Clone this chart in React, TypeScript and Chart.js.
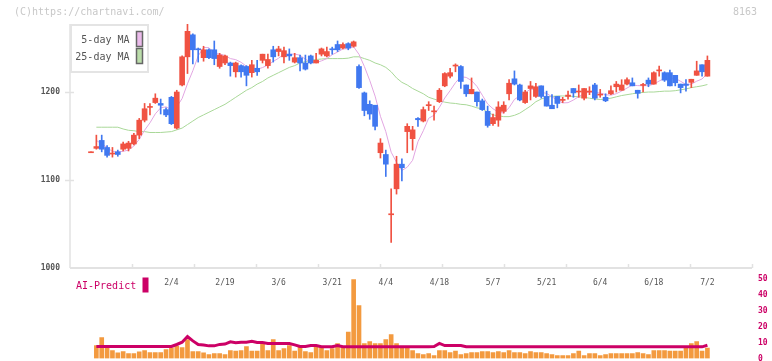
import React, { useEffect, useRef } from 'react';
import { Chart, registerables } from 'chart.js';

Chart.register(...registerables);

const FONT = "'DejaVu Sans Mono', monospace";

// x tick labels (trading-day index -> date label)
const tickIndex = [15, 25, 35, 45, 55, 65, 75, 85, 95, 105, 115];
const tickLabels = ['2/4', '2/19', '3/6', '3/21', '4/4', '4/18', '5/7', '5/21', '6/4', '6/18', '7/2'];
const priceTicks = [1000, 1100, 1200];
const priceMin = 1000;
const priceMax = 1277.3;
const volTickStep = 10;
const volMax = 50;

const opens = [
  1131, 1136, 1145, 1137, 1129.5, 1132, 1135, 1136, 1141, 1151,
  1168, 1182.5, 1188, 1187, 1180, 1194, 1159, 1208, 1240, 1265,
  1249, 1239, 1248, 1248, 1229, 1233, 1233, 1223, 1230, 1229,
  1222, 1227, 1236, 1230, 1248, 1246, 1240, 1243, 1234, 1239,
  1233, 1241, 1233, 1243, 1241, 1248.5, 1254, 1250, 1255, 1252,
  1229, 1199, 1186, 1185, 1131, 1129, 1060.5, 1090, 1118, 1155,
  1147, 1170, 1167, 1184.5, 1177.5, 1189, 1207, 1218, 1229.5, 1229,
  1208, 1198, 1200, 1190, 1178, 1164, 1168, 1178, 1198, 1215,
  1208, 1188, 1204, 1195, 1207, 1195, 1185, 1195, 1190.5, 1195,
  1204, 1200, 1193, 1200, 1208, 1196.5, 1194, 1198, 1206, 1202,
  1209, 1210.5, 1202, 1207.5, 1213.5, 1209, 1224, 1222, 1222, 1219,
  1209, 1209, 1211, 1219, 1231, 1218,
];
const highs = [
  1132, 1151, 1151, 1139, 1137, 1134, 1143, 1144, 1153, 1170,
  1187, 1187, 1198, 1192, 1182, 1195, 1202, 1241, 1277, 1266,
  1250, 1252, 1249, 1258, 1244, 1242, 1234, 1234, 1231, 1230,
  1236, 1236, 1243, 1243, 1252, 1252, 1251, 1249, 1244, 1242,
  1242, 1242, 1244, 1250, 1251, 1251, 1258, 1256, 1256, 1258,
  1231, 1200, 1190, 1185, 1147, 1134, 1090, 1127, 1124, 1164,
  1161, 1171, 1183, 1189, 1184, 1204, 1222, 1227, 1232, 1230,
  1208, 1216, 1200, 1192, 1184, 1175, 1189, 1189, 1214, 1224,
  1209, 1202, 1212, 1210, 1207, 1201, 1197, 1195, 1194, 1201,
  1204, 1208, 1204, 1206, 1210, 1203, 1198, 1207, 1212, 1214,
  1216, 1216, 1202, 1210, 1216, 1223, 1229.5, 1223, 1225, 1219,
  1209, 1214, 1214.5, 1235, 1231, 1241,
];
const lows = [
  1131, 1135, 1132, 1126, 1126, 1127, 1133, 1133, 1140, 1147,
  1166, 1174, 1187, 1175, 1172, 1163, 1158, 1207, 1221, 1232,
  1234, 1235, 1238, 1231, 1227, 1231, 1218, 1217, 1217, 1207,
  1217, 1219, 1233, 1227, 1234, 1241, 1233, 1236, 1233, 1224,
  1225, 1232, 1233, 1241, 1240, 1243, 1246, 1249, 1248, 1251,
  1204, 1173, 1169, 1157, 1125, 1104, 1029, 1084, 1099, 1131,
  1134, 1161, 1166, 1179, 1168, 1188, 1206, 1216, 1223, 1204,
  1195, 1198, 1184, 1179, 1160, 1162, 1161, 1176, 1191, 1208,
  1190, 1187, 1191, 1194, 1193, 1184, 1181, 1182, 1188, 1192,
  1194, 1194, 1191, 1197, 1191, 1194, 1189, 1197, 1200, 1202,
  1208, 1207, 1193, 1200, 1206, 1209, 1218, 1212, 1207, 1207,
  1199, 1201, 1205, 1219, 1218, 1218,
];
const closes = [
  1131.5, 1138, 1135, 1128, 1130, 1129, 1141, 1142, 1151, 1168,
  1181, 1183, 1193, 1185, 1174, 1164, 1200, 1240, 1269, 1248,
  1248, 1248, 1239, 1238, 1242, 1241, 1230, 1233, 1223, 1219,
  1231, 1223, 1243, 1237, 1240, 1249, 1247, 1241, 1239, 1233,
  1226, 1233, 1236, 1249, 1246, 1248, 1248, 1254, 1250, 1257,
  1205, 1179, 1175, 1161, 1142, 1118, 1061.5, 1118, 1114, 1161,
  1157, 1168.5, 1180, 1185, 1178, 1202, 1221, 1222, 1230, 1212,
  1198, 1203, 1189, 1180, 1162, 1171, 1183, 1185, 1210, 1209,
  1191, 1200, 1207, 1206, 1195, 1184, 1181, 1187, 1191, 1196.5,
  1199, 1200.5, 1204, 1200.5, 1193, 1197, 1190, 1201.5, 1209, 1208,
  1214, 1207, 1198.5, 1208, 1209, 1222, 1224.5, 1213.5, 1207, 1210.5,
  1205, 1207.5, 1214.5, 1224, 1223, 1236,
];
const ma5 = [
  null, 1145, 1141, 1137, 1132.4, 1132, 1132.6, 1134, 1138.6, 1146.2,
  1156.6, 1165, 1175.2, 1182, 1183.2, 1179.8, 1183.2, 1192.6, 1209.4, 1224.2,
  1241, 1250.6, 1250.4, 1244.2, 1243, 1241.6, 1238, 1236.8, 1233.8, 1229.2,
  1227.2, 1225.8, 1227.8, 1230.6, 1234.8, 1238.4, 1243.2, 1242.8, 1243.2, 1241.8,
  1237.2, 1234.4, 1233.4, 1235.4, 1238, 1242.4, 1245.4, 1249, 1249.2, 1251.4,
  1242.8, 1229, 1213.2, 1195.4, 1172.4, 1155, 1131.6, 1120.2, 1110.8, 1114.6,
  1122.4, 1143.6, 1156, 1170.2, 1173.6, 1182.6, 1193.2, 1201.6, 1210.6, 1217.4,
  1216.6, 1213, 1206.4, 1196.4, 1186.4, 1181, 1177, 1176.2, 1182.2, 1191.6,
  1195.6, 1199, 1203.4, 1202.6, 1199.8, 1198.4, 1194.6, 1190.6, 1187.6, 1187.9,
  1190.9, 1194.8, 1198.2, 1200.1, 1199.4, 1199, 1196.9, 1196.4, 1198.1, 1201.1,
  1204.5, 1207.9, 1207.3, 1207.1, 1207.3, 1208.9, 1212.5, 1215.5, 1215.3, 1215.6,
  1212.2, 1208.7, 1208.9, 1212.3, 1214.8, 1221,
];
const ma25 = [
  null, 1160, 1160, 1160, 1160, 1160, 1158, 1156.5, 1156, 1155,
  1155, 1154, 1154, 1154, 1154.5, 1155, 1157, 1159, 1163, 1167,
  1171, 1174, 1177, 1180, 1183, 1186, 1190, 1194, 1198, 1202,
  1205, 1209, 1212, 1216, 1219, 1222, 1225, 1228, 1230, 1233,
  1234.5, 1236, 1237, 1237.5, 1238, 1238, 1238, 1238, 1238.5, 1240,
  1240, 1238, 1236, 1233, 1231, 1228, 1223, 1216, 1211, 1208,
  1204, 1201, 1198, 1194, 1192, 1190, 1188.5, 1187.5, 1187, 1186,
  1185.5, 1184, 1182, 1181, 1177, 1174, 1173, 1172, 1172, 1173.5,
  1176, 1180, 1184, 1189, 1192, 1194, 1195, 1195.5, 1195.5, 1195.5,
  1195, 1194.5, 1194, 1193, 1192, 1191.5, 1192, 1193, 1194.5, 1196,
  1197, 1198, 1199, 1199.5, 1200, 1200, 1200.5, 1201, 1201, 1201.5,
  1202.5, 1203.5, 1205, 1206, 1207, 1208.5,
];
const volume = [
  null, 8.1, 13.1, 6.5, 5, 3.5, 4.4, 3.1, 3.1, 4.2,
  5, 3.75, 3.75, 3.75, 5.6, 6.7, 7.7, 6.9, 11.9, 4.4,
  4.4, 3.5, 2.5, 3.1, 3.1, 2.5, 5, 4.6, 5, 7.5,
  4.6, 4.6, 9.2, 5, 11.9, 5, 6.25, 8.1, 4.6, 7.5,
  4.4, 3.75, 7.1, 7.1, 5, 6.25, 9.4, 7.1, 16.5, 49.4,
  33.1, 9.4, 10.6, 9.4, 9.4, 11.9, 15, 9.4, 7.5, 7.1,
  5, 3.1, 2.5, 3.1, 1.9, 5, 5, 3.75, 4.6, 2.5,
  3.1, 3.75, 3.75, 4.4, 4.4, 3.75, 4.4, 3.75, 5, 3.75,
  3.75, 3.1, 4.4, 3.75, 3.75, 3.1, 2.5, 1.9, 1.9, 1.9,
  3.1, 4.6, 1.9, 3.1, 3.1, 1.9, 2.5, 3.1, 3.1, 3.1,
  3.1, 3.1, 3.75, 3.1, 2.5, 5, 5, 5, 4.6, 4.6,
  4.6, 6.5, 9.4, 10.6, 4.6, 6.5,
];
const aiPredict = [
  null, 7.5, 7.5, 7.5, 7.5, 7.5, 7.5, 7.5, 7.5, 7.5,
  7.5, 7.5, 7.5, 7.5, 7.5, 7.5, 8.75, 10.2, 13.75, 11,
  8.75, 8.5, 7.9, 7.9, 8.8, 9, 10.4, 9.8, 10.2, 10.2,
  10.8, 10, 10, 9.4, 9.4, 9.4, 9.4, 9.4, 8.5, 7.5,
  7.5, 8.1, 8.1, 7.3, 7.3, 7.3, 8.1, 7.3, 7.3, 7.3,
  7.3, 7.3, 7.3, 7.3, 7.3, 7.3, 7.3, 7.3, 7.3, 7.3,
  7.3, 7.3, 7.3, 7.3, 7.5, 9.4, 8.1, 8.1, 8.1, 8.1,
  7.3, 7.3, 7.3, 7.3, 7.3, 7.3, 7.3, 7.3, 7.3, 7.3,
  7.3, 7.3, 7.3, 7.3, 7.3, 7.3, 7.3, 7.3, 7.3, 7.3,
  7.3, 7.3, 7.3, 7.3, 7.3, 7.3, 7.3, 7.3, 7.3, 7.3,
  7.3, 7.3, 7.3, 7.3, 7.3, 7.3, 7.3, 7.3, 7.3, 7.3,
  7.3, 7.3, 7.3, 7.3, 7.3, 8.3,
];

const X_MIN = -3.918;
const X_MAX = 123.32;
const GRID_DIVISIONS = 11;

const RED = '#F05242';
const BLUE = '#4078F0';
const PINK = '#E2A6E2';
const GREEN = '#A9D898';
const ORANGE = '#F39A3F';
const CRIMSON = '#CC0066';
const AXIS = '#E2E2E2';

function seg(ctx: CanvasRenderingContext2D, x1: number, y1: number, x2: number, y2: number) {
  ctx.beginPath();
  ctx.moveTo(x1, y1);
  ctx.lineTo(x2, y2);
  ctx.stroke();
}

const priceDecor = {
  id: 'priceDecor',
  beforeDatasetsDraw(chart: any) {
    const { ctx, chartArea } = chart;
    const { left, right, top, bottom } = chartArea;
    const ys = chart.scales.y;
    ctx.save();
    ctx.strokeStyle = AXIS;
    ctx.lineWidth = 1.5;
    seg(ctx, left, top, left, bottom);
    priceTicks.forEach((v) => {
      if (v === priceMin) return;
      const y = Math.round(ys.getPixelForValue(v)) + 0.5;
      seg(ctx, left - 5, y, left + 4, y);
    });
    for (let k = 1; k <= GRID_DIVISIONS; k++) {
      const x = Math.round(left + ((right - left) * k) / GRID_DIVISIONS) + 0.5;
      seg(ctx, x, bottom - 4, x, bottom);
    }
    ctx.lineWidth = 2;
    seg(ctx, left, bottom, right, bottom);
    ctx.restore();
  },
  afterDraw(chart: any) {
    const { ctx } = chart;
    ctx.save();
    ctx.font = `10px ${FONT}`;
    ctx.textBaseline = 'middle';
    ctx.fillStyle = '#C8C8C8';
    ctx.textAlign = 'left';
    ctx.fillText('(C)https://chartnavi.com/', 14, 12.5);
    ctx.textAlign = 'right';
    ctx.fillText('8163', 757, 12.5);

    // legend box
    ctx.fillStyle = '#FFFFFF';
    ctx.fillRect(70, 24, 78, 48);
    ctx.strokeStyle = '#E4E4E4';
    ctx.lineWidth = 2;
    ctx.strokeRect(71, 25, 77, 47);
    ctx.fillStyle = '#555555';
    ctx.textAlign = 'right';
    ctx.fillText('5-day MA', 129.5, 40);
    ctx.fillText('25-day MA', 129.5, 57);
    ctx.lineWidth = 1.5;
    ctx.strokeStyle = '#666666';
    ctx.fillStyle = '#EBBBEB';
    ctx.fillRect(136.5, 31.5, 6, 15);
    ctx.strokeRect(136.5, 31.5, 6, 15);
    ctx.fillStyle = '#BBDDAA';
    ctx.fillRect(136.5, 48.5, 6, 15);
    ctx.strokeRect(136.5, 48.5, 6, 15);
    ctx.restore();
  },
};

const volDecor = {
  id: 'volDecor',
  afterDraw(chart: any) {
    const { ctx } = chart;
    ctx.save();
    ctx.font = `10px ${FONT}`;
    ctx.textBaseline = 'middle';
    ctx.textAlign = 'left';
    ctx.fillStyle = CRIMSON;
    ctx.fillText('AI-Predict', 76, 286);
    ctx.fillRect(142.5, 277.5, 6, 15);
    ctx.restore();
  },
};

export default function App() {
  const priceRef = useRef<HTMLCanvasElement | null>(null);
  const volRef = useRef<HTMLCanvasElement | null>(null);

  useEffect(() => {
    const idx = opens.map((_, i) => i);
    const colors = opens.map((o, i) => (closes[i] >= o ? RED : BLUE));

    const priceChart = new Chart(priceRef.current as HTMLCanvasElement, {
      type: 'bar',
      data: {
        datasets: [
          {
            type: 'line',
            data: idx.map((i) => ({ x: i, y: ma25[i] })),
            borderColor: GREEN,
            borderWidth: 1,
            pointRadius: 0,
            order: 3,
          } as any,
          {
            type: 'line',
            data: idx.map((i) => ({ x: i, y: ma5[i] })),
            borderColor: PINK,
            borderWidth: 1,
            pointRadius: 0,
            order: 2,
          } as any,
          {
            type: 'bar',
            data: idx.map((i) => ({ x: i, y: [lows[i], highs[i]] })),
            backgroundColor: colors,
            barThickness: 1,
            grouped: false,
            order: 1,
          } as any,
          {
            type: 'bar',
            data: idx.map((i) => ({ x: i, y: [opens[i], closes[i]] })),
            backgroundColor: colors,
            barThickness: 5,
            minBarLength: 1,
            grouped: false,
            order: 0,
          } as any,
        ],
      },
      options: {
        animation: false,
        responsive: false,
        devicePixelRatio: 1,
        layout: { padding: { left: 0, right: 20, top: 24, bottom: 0 } },
        plugins: { legend: { display: false }, tooltip: { enabled: false } },
        scales: {
          x: {
            type: 'linear',
            min: X_MIN,
            max: X_MAX,
            offset: false,
            grid: { display: false, drawTicks: false },
            border: { display: false },
            afterBuildTicks: (s: any) => {
              s.ticks = tickIndex.map((v) => ({ value: v }));
            },
            afterFit: (s: any) => {
              s.height = 93;
            },
            ticks: {
              autoSkip: false,
              maxRotation: 0,
              padding: 10,
              color: '#555555',
              font: { family: FONT, size: 8 },
              callback: (v: any) => {
                const k = tickIndex.indexOf(Number(v));
                return k >= 0 ? tickLabels[k] : '';
              },
            },
          },
          y: {
            type: 'linear',
            min: priceMin,
            max: priceMax,
            grid: { display: false, drawTicks: false },
            border: { display: false },
            afterBuildTicks: (s: any) => {
              s.ticks = priceTicks.map((v) => ({ value: v }));
            },
            afterFit: (s: any) => {
              s.width = 70;
            },
            ticks: {
              padding: 10,
              color: '#555555',
              font: { family: FONT, size: 8, weight: 'bold' },
              callback: (v: any) => String(v),
            },
          },
        },
      } as any,
      plugins: [priceDecor],
    });

    const volChart = new Chart(volRef.current as HTMLCanvasElement, {
      type: 'bar',
      data: {
        datasets: [
          {
            type: 'line',
            data: idx.map((i) => ({ x: i, y: aiPredict[i] })),
            borderColor: CRIMSON,
            borderWidth: 3,
            pointRadius: 0,
            order: 0,
          } as any,
          {
            type: 'bar',
            data: idx.map((i) => ({ x: i, y: volume[i] })),
            backgroundColor: ORANGE,
            barThickness: 4,
            grouped: false,
            order: 1,
          } as any,
        ],
      },
      options: {
        animation: false,
        responsive: false,
        devicePixelRatio: 1,
        layout: { padding: { left: 70, right: 0, top: 278.5, bottom: 2.5 } },
        plugins: { legend: { display: false }, tooltip: { enabled: false } },
        scales: {
          x: {
            type: 'linear',
            display: false,
            min: X_MIN,
            max: X_MAX,
            offset: false,
            afterFit: (s: any) => {
              s.height = 0;
              s.paddingLeft = 0;
              s.paddingRight = 0;
            },
          },
          y: {
            type: 'linear',
            position: 'right',
            min: 0,
            max: volMax,
            grid: { display: false, drawTicks: false },
            border: { display: false },
            afterFit: (s: any) => {
              s.width = 20;
              s.paddingTop = 0;
              s.paddingBottom = 0;
            },
            ticks: {
              stepSize: volTickStep,
              padding: 6,
              color: CRIMSON,
              font: { family: FONT, size: 8, weight: 'bold' },
            },
          },
        },
      } as any,
      plugins: [volDecor],
    });

    return () => {
      priceChart.destroy();
      volChart.destroy();
    };
  }, []);

  return (
    <div style={{ position: 'fixed', left: 0, top: 0, width: 772, height: 361, background: '#ffffff' }}>
      <canvas ref={priceRef} width={772} height={361} style={{ position: 'absolute', left: 0, top: 0 }} />
      <canvas ref={volRef} width={772} height={361} style={{ position: 'absolute', left: 0, top: 0 }} />
    </div>
  );
}
